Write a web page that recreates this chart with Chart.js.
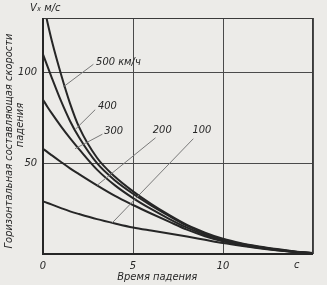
<!DOCTYPE html>
<html>
<head>
<meta charset="utf-8">
<script src="https://cdn.jsdelivr.net/npm/chart.js@4/dist/chart.umd.min.js"></script>
<style>
  html, body { margin: 0; padding: 0; background: #ecebe8; }
  #wrap { width: 327px; height: 285px; }
</style>
</head>
<body>
<div id="wrap"><canvas id="fall-chart" width="327" height="285"></canvas></div>
<script>
// time of fall, s
const timeS = [0, 0.25, 0.5, 1, 1.5, 2, 3, 4, 5, 6, 7, 8, 9, 10, 11, 12, 13, 14, 15];

// horizontal speed component, m/s, for each release speed
const speed500 = [139, 127.5, 117, 99, 83, 70, 53, 42.5, 34.5, 27.6, 21.5, 16, 11.8, 8.4, 6, 4.2, 2.7, 1.4, 0.5];
const speed400 = [110, 103.3, 96.8, 84.3, 73.3, 64.3, 50, 40.5, 33.2, 26.8, 21, 15.6, 11.2, 7.8, 5.6, 3.9, 2.5, 1.3, 0.5];
const speed300 = [85, 81, 77.3, 70.3, 63.8, 57.8, 46.5, 37.8, 30.8, 24.8, 19.4, 14.5, 10.5, 7.3, 5.3, 3.7, 2.4, 1.2, 0.5];
const speed200 = [58, 56.1, 54.3, 50.7, 47.2, 44, 37.8, 32, 27, 22.3, 17.8, 13.4, 9.8, 7, 5, 3.4, 2.1, 1.1, 0.5];
const speed100 = [29, 28.1, 27.2, 25.3, 23.5, 22, 19.2, 16.8, 14.6, 12.9, 11.3, 9.6, 7.8, 6, 4.5, 3.2, 2, 1, 0.4];

const seriesNames = ["500 км/ч", "400", "300", "200", "100"];

// label anchor (t, v) and leader line start/end in data units
const labelT = [2.95, 3.05, 3.4, 6.1, 8.3];
const labelV = [105.5, 81.5, 67.8, 68.4, 68];
const leaderFrom = [[2.8, 104.5], [2.9, 79.5], [3.3, 66], [6.25, 64], [8.35, 63.5]];
const leaderTo = [[1.12, 92], [1.78, 68.5], [1.78, 58], [3.0, 37.8], [3.85, 17.2]];

const xTicks = [0, 5, 10];
const yTicks = [50, 100];

const ink = "#262626";
const family = "'DejaVu Sans Condensed', 'DejaVu Sans', sans-serif";
const font = `italic 11px ${family}`;

function points(values) {
  return timeS.map((t, i) => ({ x: t, y: values[i] }));
}

function rotatedText(ctx, text, x, y) {
  ctx.save();
  ctx.translate(x, y);
  ctx.rotate(-Math.PI / 2);
  ctx.fillText(text, 0, 0);
  ctx.restore();
}

const decorPlugin = {
  id: "decor",
  beforeDraw(chart) {
    const { ctx } = chart;
    ctx.save();
    ctx.fillStyle = "#ecebe8";
    ctx.fillRect(0, 0, chart.width, chart.height);
    ctx.restore();
  },
  afterDatasetsDraw(chart) {
    const { ctx, chartArea: a, scales } = chart;
    const sx = scales.x, sy = scales.y;
    ctx.save();

    // frame
    ctx.strokeStyle = "#3a3a3a";
    ctx.lineWidth = 1;
    ctx.strokeRect(a.left + 0.5, a.top + 0.5, a.right - a.left - 1, a.bottom - a.top);
    ctx.strokeStyle = ink;
    ctx.lineWidth = 2;
    ctx.beginPath();
    ctx.moveTo(a.left, a.top);
    ctx.lineTo(a.left, a.bottom);
    ctx.lineTo(a.right, a.bottom);
    ctx.stroke();

    // leaders and curve labels
    ctx.strokeStyle = "#7a7a7a";
    ctx.lineWidth = 1;
    leaderFrom.forEach((p, i) => {
      ctx.beginPath();
      ctx.moveTo(sx.getPixelForValue(p[0]), sy.getPixelForValue(p[1]));
      ctx.lineTo(sx.getPixelForValue(leaderTo[i][0]), sy.getPixelForValue(leaderTo[i][1]));
      ctx.stroke();
    });
    ctx.fillStyle = ink;
    ctx.font = font;
    ctx.textAlign = "left";
    ctx.textBaseline = "middle";
    seriesNames.forEach((name, i) => {
      ctx.fillText(name, sx.getPixelForValue(labelT[i]), sy.getPixelForValue(labelV[i]));
    });

    // unit of the time axis
    ctx.textAlign = "center";
    ctx.textBaseline = "top";
    ctx.fillText("с", sx.getPixelForValue(14.1), a.bottom + 6);

    // axis titles
    ctx.fillText("Время падения", sx.getPixelForValue(6.35), a.bottom + 18);
    ctx.textAlign = "left";
    ctx.textBaseline = "middle";
    ctx.fillText("Vₓ м/с", a.left - 13, 8);

    ctx.textAlign = "center";
    rotatedText(ctx, "Горизонтальная составляющая скорости", 9, 141);
    rotatedText(ctx, "падения", 20, 125);
    ctx.restore();
  },
};

const datasets = [speed500, speed400, speed300, speed200, speed100].map((values, i) => ({
  label: seriesNames[i],
  data: points(values),
  borderColor: ink,
  borderWidth: 2,
  pointRadius: 0,
  fill: false,
  cubicInterpolationMode: "monotone",
}));

new Chart(document.getElementById("fall-chart"), {
  type: "line",
  data: { datasets },
  plugins: [decorPlugin],
  options: {
    responsive: false,
    animation: false,
    events: [],
    layout: { padding: { top: 18, right: 14, left: 0, bottom: 0 } },
    plugins: { legend: { display: false }, tooltip: { enabled: false } },
    scales: {
      x: {
        type: "linear",
        min: 0,
        max: 15,
        afterFit: (scale) => { scale.height = 31; },
        afterBuildTicks: (scale) => { scale.ticks = [0, 5, 10, 15].map((v) => ({ value: v })); },
        ticks: {
          padding: 6,
          color: ink,
          font: { family, size: 11, style: "italic" },
          maxRotation: 0,
          callback: (v) => (xTicks.includes(v) ? String(v) : ""),
        },
        grid: { color: "#4a4a4a", lineWidth: 1, drawTicks: false },
        border: { display: false },
      },
      y: {
        min: 0,
        max: 130,
        afterFit: (scale) => { scale.width = 43; },
        afterBuildTicks: (scale) => { scale.ticks = [0, 50, 100, 130].map((v) => ({ value: v })); },
        ticks: {
          padding: 6,
          color: ink,
          font: { family, size: 11, style: "italic" },
          callback: (v) => (yTicks.includes(v) ? String(v) : ""),
        },
        grid: { color: "#4a4a4a", lineWidth: 1, drawTicks: false },
        border: { display: false },
      },
    },
  },
});
</script>
</body>
</html>
